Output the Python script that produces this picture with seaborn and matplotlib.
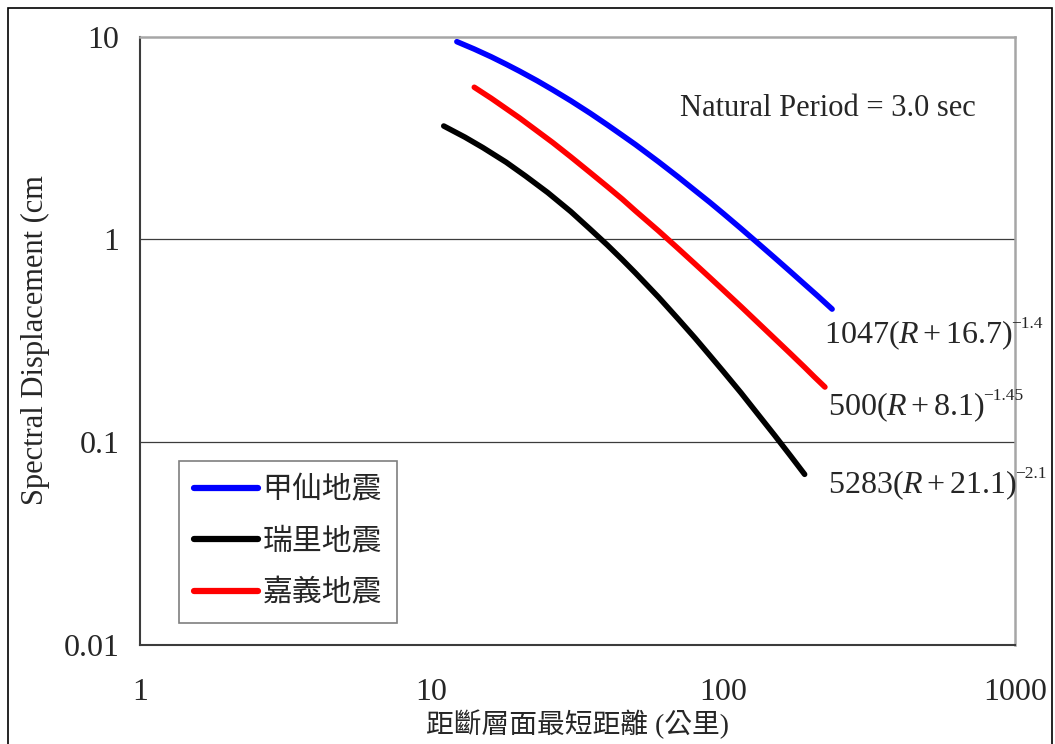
import numpy as np
import pandas as pd
import matplotlib
matplotlib.use("Agg")
import matplotlib.pyplot as plt
from matplotlib.lines import Line2D
from matplotlib.patches import Rectangle
import seaborn as sns

# ---- data -------------------------------------------------------------
quakes = ["甲仙地震", "瑞里地震", "嘉義地震"]
colors = ["#0000ff", "#000000", "#ff0000"]

# distance to fault plane (km) and spectral displacement (cm)
jiaxian_r = [12.2, 14, 16, 18, 20, 23, 26, 30, 35, 40, 45, 50, 60, 70, 80,
             90, 100, 115, 130, 150, 170, 190, 210, 236]
jiaxian_sd = [9.43, 8.67, 7.94, 7.30, 6.75, 6.05, 5.46, 4.82, 4.18, 3.67,
              3.26, 2.93, 2.41, 2.03, 1.74, 1.52, 1.34, 1.13, 0.970, 0.811,
              0.692, 0.600, 0.528, 0.453]

ruili_r = [11, 13, 15, 18, 21, 25, 30, 35, 40, 45, 50, 60, 70, 80, 90, 100,
           115, 130, 150, 170, 190]
ruili_sd = [3.62, 3.19, 2.83, 2.40, 2.05, 1.70, 1.37, 1.12, 0.938, 0.795,
            0.682, 0.518, 0.405, 0.326, 0.267, 0.223, 0.175, 0.140, 0.108,
            0.0856, 0.0694]

chiayi_r = [14, 16, 18, 20, 23, 26, 30, 35, 40, 45, 50, 60, 70, 80, 90, 100,
            115, 130, 150, 170, 190, 205, 223]
chiayi_sd = [5.62, 4.96, 4.41, 3.97, 3.42, 3.00, 2.55, 2.13, 1.82, 1.58,
             1.38, 1.10, 0.901, 0.756, 0.647, 0.562, 0.466, 0.394, 0.324,
             0.273, 0.234, 0.210, 0.187]

fit_main = [r"$1047(R+16.7)$", r"$500(R+8.1)$", r"$5283(R+21.1)$"]
fit_exp = ["\u22121.4", "\u22121.45", "\u22122.1"]

x_ticks = [1, 10, 100, 1000]
x_tick_labels = ["1", "10", "100", "1000"]
y_ticks = [0.01, 0.1, 1, 10]
y_tick_labels = ["0.01", "0.1", "1", "10"]

period_text = "Natural Period = 3.0 sec"
x_label = "距斷層面最短距離 (公里)"
y_label = "Spectral Displacement (cm"

# ---- style -------------------------------------------------------------
sns.set_style("white")
serif = ["Liberation Serif", "Noto Sans CJK TC"]
plt.rcParams["font.family"] = serif
plt.rcParams["mathtext.fontset"] = "custom"
plt.rcParams["mathtext.rm"] = "Liberation Serif"
plt.rcParams["mathtext.it"] = "Liberation Serif:italic"
plt.rcParams["mathtext.bf"] = "Liberation Serif:bold"

W, H = 1055, 744
fig = plt.figure(figsize=(W / 100, H / 100), dpi=100)
ax = fig.add_axes([140 / W, 1 - 645 / H, 875 / W, 608.5 / H])

df = pd.concat([
    pd.DataFrame({"R": jiaxian_r, "Sd": jiaxian_sd, "quake": quakes[0]}),
    pd.DataFrame({"R": ruili_r, "Sd": ruili_sd, "quake": quakes[1]}),
    pd.DataFrame({"R": chiayi_r, "Sd": chiayi_sd, "quake": quakes[2]}),
])

sns.lineplot(data=df, x="R", y="Sd", hue="quake", hue_order=quakes,
             palette=colors, estimator=None, linewidth=4.0,
             solid_capstyle="round", legend=False, ax=ax)

ax.set_xscale("log")
ax.set_yscale("log")
ax.set_xlim(1, 1000)
ax.set_ylim(0.01, 10)
ax.set_xticks(x_ticks)
ax.set_xticklabels(x_tick_labels)
ax.set_yticks(y_ticks)
ax.set_yticklabels(y_tick_labels)
ax.minorticks_off()
ax.set_xlabel("")
ax.set_ylabel("")

for y in [0.1, 1]:
    ax.axhline(y, color="#3c3c3c", lw=0.9, zorder=0.5)

ax.tick_params(axis="x", direction="in", length=6.5, width=1.2,
               color="#7f7f7f", labelsize=23, pad=24)
ax.tick_params(axis="y", direction="in", length=6.5, width=1.2,
               color="#7f7f7f", labelsize=23, pad=15)

for side in ["top", "right"]:
    ax.spines[side].set_color("#a6a6a6")
    ax.spines[side].set_linewidth(1.8)
for side in ["left", "bottom"]:
    ax.spines[side].set_color("#3c3c3c")
    ax.spines[side].set_linewidth(1.5)

# labels
fig.text(578 / W, 1 - 724 / H, x_label, ha="center", va="center",
         fontsize=20, family=serif)
fig.text(35 / W, 1 - 340 / H, y_label, ha="center", va="center",
         rotation=90, fontsize=22)
fig.text(680 / W, 1 - 108 / H, period_text, ha="left", va="center",
         fontsize=22)

# fitted relations next to the curve ends
fit_pos = [(824, 335), (828, 407), (828, 485)]
main_texts = []
for s, (px, py) in zip(fit_main, fit_pos):
    main_texts.append(fig.text(px / W, 1 - py / H, s, ha="left",
                               va="center", fontsize=23))
fig.canvas.draw()
renderer = fig.canvas.get_renderer()
for t, e, (px, py) in zip(main_texts, fit_exp, fit_pos):
    bb = t.get_window_extent(renderer)
    fig.text((bb.x1 - 2) / W, 1 - (py - 11) / H, e, ha="left", va="center",
             fontsize=12.5)

# legend
handles = [Line2D([0], [0], color=c, lw=4.5, solid_capstyle="round")
           for c in colors]
leg = ax.legend(handles, quakes, loc="upper left",
                bbox_to_anchor=(179 / W, 1 - 461 / H),
                bbox_transform=fig.transFigure, frameon=True,
                fancybox=False, edgecolor="#7f7f7f", framealpha=1,
                prop={"family": serif, "size": 21.5}, handlelength=2.15,
                handletextpad=0.15, labelspacing=0.8, borderpad=0.5,
                borderaxespad=0)
leg.get_frame().set_linewidth(1.2)

# outer frame around the whole figure
fig.patches.append(Rectangle((8 / W, -0.05), 1044 / W, 1.05 - 8 / H,
                             transform=fig.transFigure, fill=False,
                             edgecolor="black", lw=1.2))

fig.savefig("out.png", dpi=100)
